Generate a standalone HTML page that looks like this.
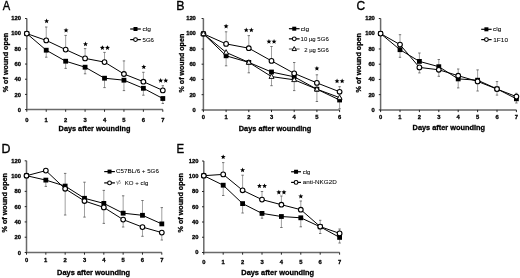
<!DOCTYPE html>
<html><head><meta charset="utf-8"><style>
html,body{margin:0;padding:0;background:#fff;}
svg{display:block;filter:blur(0.3px);font-family:"Liberation Sans", sans-serif;font-kerning:none;}
</style></head><body>
<svg width="520" height="278" viewBox="0 0 520 278">
<rect width="520" height="278" fill="#fff"/>
<path d="M26.80 18.50V109.60H162.81" stroke="#6a6a6a" stroke-width="1.5" fill="none"/>
<path d="M25.00 109.60H26.80M25.00 94.42H26.80M25.00 79.23H26.80M25.00 64.05H26.80M25.00 48.87H26.80M25.00 33.68H26.80M25.00 18.50H26.80M26.80 109.60V111.80M46.23 109.60V111.80M65.66 109.60V111.80M85.09 109.60V111.80M104.52 109.60V111.80M123.95 109.60V111.80M143.38 109.60V111.80M162.81 109.60V111.80" stroke="#111" stroke-width="0.9" fill="none"/>
<text transform="translate(17.71,111.80)" font-size="5.8" font-weight="bold" fill="#000" stroke="#000" stroke-width="0.3">0</text>
<text transform="translate(14.49,96.54)" font-size="5.8" font-weight="bold" fill="#000" stroke="#000" stroke-width="0.3">20</text>
<text transform="translate(14.49,81.27)" font-size="5.8" font-weight="bold" fill="#000" stroke="#000" stroke-width="0.3">40</text>
<text transform="translate(14.49,66.00)" font-size="5.8" font-weight="bold" fill="#000" stroke="#000" stroke-width="0.3">60</text>
<text transform="translate(14.49,50.74)" font-size="5.8" font-weight="bold" fill="#000" stroke="#000" stroke-width="0.3">80</text>
<text transform="translate(11.26,35.47)" font-size="5.8" font-weight="bold" fill="#000" stroke="#000" stroke-width="0.3">100</text>
<text transform="translate(11.26,20.20)" font-size="5.8" font-weight="bold" fill="#000" stroke="#000" stroke-width="0.3">120</text>
<text transform="translate(25.19,121.55)" font-size="5.8" font-weight="bold" fill="#000" stroke="#000" stroke-width="0.3">0</text>
<text transform="translate(44.52,121.55)" font-size="5.8" font-weight="bold" fill="#000" stroke="#000" stroke-width="0.3">1</text>
<text transform="translate(64.06,121.55)" font-size="5.8" font-weight="bold" fill="#000" stroke="#000" stroke-width="0.3">2</text>
<text transform="translate(83.52,121.55)" font-size="5.8" font-weight="bold" fill="#000" stroke="#000" stroke-width="0.3">3</text>
<text transform="translate(102.88,121.55)" font-size="5.8" font-weight="bold" fill="#000" stroke="#000" stroke-width="0.3">4</text>
<text transform="translate(122.33,121.55)" font-size="5.8" font-weight="bold" fill="#000" stroke="#000" stroke-width="0.3">5</text>
<text transform="translate(141.77,121.55)" font-size="5.8" font-weight="bold" fill="#000" stroke="#000" stroke-width="0.3">6</text>
<text transform="translate(161.20,121.55)" font-size="5.8" font-weight="bold" fill="#000" stroke="#000" stroke-width="0.3">7</text>
<text transform="translate(58.61,130.60)" font-size="7.3" font-weight="bold" fill="#000" stroke="#000" stroke-width="0.3">Days after wounding</text>
<text transform="translate(7.50,92.28) rotate(-90)" font-size="7.2" font-weight="bold" fill="#000" stroke="#000" stroke-width="0.3">% of wound open</text>
<text transform="translate(2.78,10.20) scale(0.9000,1)" font-size="12.4" font-weight="normal" fill="#000" stroke="#000" stroke-width="0.35">A</text>
<path d="M46.23 40.40V27.00" stroke="#808080" stroke-width="0.75" fill="none"/>
<path d="M45.03 27.00H47.43" stroke="#555" stroke-width="0.8" fill="none"/>
<path d="M65.66 49.60V35.40" stroke="#808080" stroke-width="0.75" fill="none"/>
<path d="M64.46 35.40H66.86" stroke="#555" stroke-width="0.8" fill="none"/>
<path d="M85.09 58.40V48.60" stroke="#808080" stroke-width="0.75" fill="none"/>
<path d="M83.89 48.60H86.29" stroke="#555" stroke-width="0.8" fill="none"/>
<path d="M104.52 62.10V52.40" stroke="#808080" stroke-width="0.75" fill="none"/>
<path d="M103.32 52.40H105.72" stroke="#555" stroke-width="0.8" fill="none"/>
<path d="M123.95 74.00V60.90" stroke="#808080" stroke-width="0.75" fill="none"/>
<path d="M122.75 60.90H125.15" stroke="#555" stroke-width="0.8" fill="none"/>
<path d="M143.38 81.70V72.30" stroke="#808080" stroke-width="0.75" fill="none"/>
<path d="M142.18 72.30H144.58" stroke="#555" stroke-width="0.8" fill="none"/>
<path d="M162.81 90.40V85.70" stroke="#808080" stroke-width="0.75" fill="none"/>
<path d="M161.61 85.70H164.01" stroke="#555" stroke-width="0.8" fill="none"/>
<path d="M46.23 50.20V57.20" stroke="#808080" stroke-width="0.75" fill="none"/>
<path d="M45.03 57.20H47.43" stroke="#555" stroke-width="0.8" fill="none"/>
<path d="M65.66 61.20V68.40" stroke="#808080" stroke-width="0.75" fill="none"/>
<path d="M64.46 68.40H66.86" stroke="#555" stroke-width="0.8" fill="none"/>
<path d="M85.09 67.20V73.80" stroke="#808080" stroke-width="0.75" fill="none"/>
<path d="M83.89 73.80H86.29" stroke="#555" stroke-width="0.8" fill="none"/>
<path d="M104.52 78.20V87.60" stroke="#808080" stroke-width="0.75" fill="none"/>
<path d="M103.32 87.60H105.72" stroke="#555" stroke-width="0.8" fill="none"/>
<path d="M123.95 80.20V90.60" stroke="#808080" stroke-width="0.75" fill="none"/>
<path d="M122.75 90.60H125.15" stroke="#555" stroke-width="0.8" fill="none"/>
<path d="M143.38 88.30V95.20" stroke="#808080" stroke-width="0.75" fill="none"/>
<path d="M142.18 95.20H144.58" stroke="#555" stroke-width="0.8" fill="none"/>
<path d="M162.81 98.50V103.50" stroke="#808080" stroke-width="0.75" fill="none"/>
<path d="M161.61 103.50H164.01" stroke="#555" stroke-width="0.8" fill="none"/>
<path d="M26.80 33.60L46.23 50.20L65.66 61.20L85.09 67.20L104.52 78.20L123.95 80.20L143.38 88.30L162.81 98.50" fill="none" stroke="#000" stroke-width="1.0" stroke-linejoin="round"/>
<path d="M26.80 33.60L46.23 40.40L65.66 49.60L85.09 58.40L104.52 62.10L123.95 74.00L143.38 81.70L162.81 90.40" fill="none" stroke="#000" stroke-width="1.0" stroke-linejoin="round"/>
<rect x="24.40" y="31.20" width="4.8" height="4.8" fill="#000"/>
<rect x="43.83" y="47.80" width="4.8" height="4.8" fill="#000"/>
<rect x="63.26" y="58.80" width="4.8" height="4.8" fill="#000"/>
<rect x="82.69" y="64.80" width="4.8" height="4.8" fill="#000"/>
<rect x="102.12" y="75.80" width="4.8" height="4.8" fill="#000"/>
<rect x="121.55" y="77.80" width="4.8" height="4.8" fill="#000"/>
<rect x="140.98" y="85.90" width="4.8" height="4.8" fill="#000"/>
<rect x="160.41" y="96.10" width="4.8" height="4.8" fill="#000"/>
<circle cx="26.80" cy="33.60" r="2.35" fill="#fff" stroke="#000" stroke-width="1.1"/>
<circle cx="46.23" cy="40.40" r="2.35" fill="#fff" stroke="#000" stroke-width="1.1"/>
<circle cx="65.66" cy="49.60" r="2.35" fill="#fff" stroke="#000" stroke-width="1.1"/>
<circle cx="85.09" cy="58.40" r="2.35" fill="#fff" stroke="#000" stroke-width="1.1"/>
<circle cx="104.52" cy="62.10" r="2.35" fill="#fff" stroke="#000" stroke-width="1.1"/>
<circle cx="123.95" cy="74.00" r="2.35" fill="#fff" stroke="#000" stroke-width="1.1"/>
<circle cx="143.38" cy="81.70" r="2.35" fill="#fff" stroke="#000" stroke-width="1.1"/>
<circle cx="162.81" cy="90.40" r="2.35" fill="#fff" stroke="#000" stroke-width="1.1"/>
<polygon points="46.63,18.60 47.31,20.27 49.10,20.40 47.72,21.56 48.16,23.30 46.63,22.35 45.10,23.30 45.54,21.56 44.16,20.40 45.95,20.27" fill="#000"/>
<polygon points="66.06,27.80 66.74,29.47 68.53,29.60 67.15,30.76 67.59,32.50 66.06,31.55 64.53,32.50 64.97,30.76 63.59,29.60 65.38,29.47" fill="#000"/>
<polygon points="85.49,41.60 86.17,43.27 87.96,43.40 86.58,44.56 87.02,46.30 85.49,45.35 83.96,46.30 84.40,44.56 83.02,43.40 84.81,43.27" fill="#000"/>
<polygon points="102.37,45.20 103.05,46.87 104.84,47.00 103.46,48.16 103.90,49.90 102.37,48.95 100.84,49.90 101.28,48.16 99.90,47.00 101.69,46.87" fill="#000"/>
<polygon points="107.47,45.20 108.15,46.87 109.94,47.00 108.56,48.16 109.00,49.90 107.47,48.95 105.94,49.90 106.38,48.16 105.00,47.00 106.79,46.87" fill="#000"/>
<polygon points="143.78,64.40 144.46,66.07 146.25,66.20 144.87,67.36 145.31,69.10 143.78,68.15 142.25,69.10 142.69,67.36 141.31,66.20 143.10,66.07" fill="#000"/>
<polygon points="160.66,78.00 161.34,79.67 163.13,79.80 161.75,80.96 162.19,82.70 160.66,81.75 159.13,82.70 159.57,80.96 158.19,79.80 159.98,79.67" fill="#000"/>
<polygon points="165.76,78.00 166.44,79.67 168.23,79.80 166.85,80.96 167.29,82.70 165.76,81.75 164.23,82.70 164.67,80.96 163.29,79.80 165.08,79.67" fill="#000"/>
<path d="M130.20 29.00L140.80 29.00" fill="none" stroke="#000" stroke-width="1.2" stroke-linejoin="round"/>
<rect x="133.50" y="27.00" width="4.0" height="4.0" fill="#000"/>
<text transform="translate(142.42,31.00) scale(1.1098,1)" font-size="6.0" font-weight="normal" fill="#000" stroke="#000" stroke-width="0.06">clg</text>
<path d="M130.20 39.60L140.80 39.60" fill="none" stroke="#000" stroke-width="1.2" stroke-linejoin="round"/>
<circle cx="135.50" cy="39.60" r="1.9" fill="#fff" stroke="#000" stroke-width="1.1"/>
<text transform="translate(142.56,41.60) scale(1.0058,1)" font-size="6.0" font-weight="normal" fill="#000" stroke="#000" stroke-width="0.06">5G6</text>
<path d="M203.40 18.50V109.90H339.60" stroke="#6a6a6a" stroke-width="1.5" fill="none"/>
<path d="M201.60 109.90H203.40M201.60 94.67H203.40M201.60 79.43H203.40M201.60 64.20H203.40M201.60 48.97H203.40M201.60 33.73H203.40M201.60 18.50H203.40M203.40 109.90V112.10M226.10 109.90V112.10M248.80 109.90V112.10M271.50 109.90V112.10M294.20 109.90V112.10M316.90 109.90V112.10M339.60 109.90V112.10" stroke="#111" stroke-width="0.9" fill="none"/>
<text transform="translate(192.61,111.80)" font-size="5.8" font-weight="bold" fill="#000" stroke="#000" stroke-width="0.3">0</text>
<text transform="translate(189.39,96.52)" font-size="5.8" font-weight="bold" fill="#000" stroke="#000" stroke-width="0.3">20</text>
<text transform="translate(189.39,81.24)" font-size="5.8" font-weight="bold" fill="#000" stroke="#000" stroke-width="0.3">40</text>
<text transform="translate(189.39,65.95)" font-size="5.8" font-weight="bold" fill="#000" stroke="#000" stroke-width="0.3">60</text>
<text transform="translate(189.39,50.67)" font-size="5.8" font-weight="bold" fill="#000" stroke="#000" stroke-width="0.3">80</text>
<text transform="translate(186.16,35.39)" font-size="5.8" font-weight="bold" fill="#000" stroke="#000" stroke-width="0.3">100</text>
<text transform="translate(186.16,20.10)" font-size="5.8" font-weight="bold" fill="#000" stroke="#000" stroke-width="0.3">120</text>
<text transform="translate(201.79,119.25)" font-size="5.8" font-weight="bold" fill="#000" stroke="#000" stroke-width="0.3">0</text>
<text transform="translate(224.39,119.25)" font-size="5.8" font-weight="bold" fill="#000" stroke="#000" stroke-width="0.3">1</text>
<text transform="translate(247.20,119.25)" font-size="5.8" font-weight="bold" fill="#000" stroke="#000" stroke-width="0.3">2</text>
<text transform="translate(269.93,119.25)" font-size="5.8" font-weight="bold" fill="#000" stroke="#000" stroke-width="0.3">3</text>
<text transform="translate(292.56,119.25)" font-size="5.8" font-weight="bold" fill="#000" stroke="#000" stroke-width="0.3">4</text>
<text transform="translate(315.28,119.25)" font-size="5.8" font-weight="bold" fill="#000" stroke="#000" stroke-width="0.3">5</text>
<text transform="translate(337.99,119.25)" font-size="5.8" font-weight="bold" fill="#000" stroke="#000" stroke-width="0.3">6</text>
<text transform="translate(238.81,130.60) scale(1.0083,1)" font-size="7.3" font-weight="bold" fill="#000" stroke="#000" stroke-width="0.3">Days after wounding</text>
<text transform="translate(184.30,92.48) rotate(-90) scale(0.9870,1)" font-size="7.2" font-weight="bold" fill="#000" stroke="#000" stroke-width="0.3">% of wound open</text>
<text transform="translate(176.33,10.00)" font-size="12.4" font-weight="normal" fill="#000" stroke="#000" stroke-width="0.35">B</text>
<path d="M226.10 43.90V31.80" stroke="#808080" stroke-width="0.75" fill="none"/>
<path d="M224.90 31.80H227.30" stroke="#555" stroke-width="0.8" fill="none"/>
<path d="M248.80 48.20V35.60" stroke="#808080" stroke-width="0.75" fill="none"/>
<path d="M247.60 35.60H250.00" stroke="#555" stroke-width="0.8" fill="none"/>
<path d="M271.50 60.90V46.50" stroke="#808080" stroke-width="0.75" fill="none"/>
<path d="M270.30 46.50H272.70" stroke="#555" stroke-width="0.8" fill="none"/>
<path d="M294.20 73.40V62.50" stroke="#808080" stroke-width="0.75" fill="none"/>
<path d="M293.00 62.50H295.40" stroke="#555" stroke-width="0.8" fill="none"/>
<path d="M316.90 82.90V74.80" stroke="#808080" stroke-width="0.75" fill="none"/>
<path d="M315.70 74.80H318.10" stroke="#555" stroke-width="0.8" fill="none"/>
<path d="M339.60 91.80V86.70" stroke="#808080" stroke-width="0.75" fill="none"/>
<path d="M338.40 86.70H340.80" stroke="#555" stroke-width="0.8" fill="none"/>
<path d="M226.10 55.80V65.80" stroke="#808080" stroke-width="0.75" fill="none"/>
<path d="M224.90 65.80H227.30" stroke="#555" stroke-width="0.8" fill="none"/>
<path d="M248.80 62.40V72.80" stroke="#808080" stroke-width="0.75" fill="none"/>
<path d="M247.60 72.80H250.00" stroke="#555" stroke-width="0.8" fill="none"/>
<path d="M271.50 72.00V85.70" stroke="#808080" stroke-width="0.75" fill="none"/>
<path d="M270.30 85.70H272.70" stroke="#555" stroke-width="0.8" fill="none"/>
<path d="M294.20 76.80V90.60" stroke="#808080" stroke-width="0.75" fill="none"/>
<path d="M293.00 90.60H295.40" stroke="#555" stroke-width="0.8" fill="none"/>
<path d="M316.90 89.20V101.50" stroke="#808080" stroke-width="0.75" fill="none"/>
<path d="M315.70 101.50H318.10" stroke="#555" stroke-width="0.8" fill="none"/>
<path d="M339.60 100.00V108.80" stroke="#808080" stroke-width="0.75" fill="none"/>
<path d="M338.40 108.80H340.80" stroke="#555" stroke-width="0.8" fill="none"/>
<path d="M203.40 33.80L226.10 55.80L248.80 62.40L271.50 72.00L294.20 76.80L316.90 89.20L339.60 100.00" fill="none" stroke="#000" stroke-width="1.0" stroke-linejoin="round"/>
<path d="M203.40 33.80L226.10 43.90L248.80 48.20L271.50 60.90L294.20 73.40L316.90 82.90L339.60 91.80" fill="none" stroke="#000" stroke-width="1.0" stroke-linejoin="round"/>
<path d="M203.40 33.80L226.10 52.40L248.80 62.40L271.50 76.60L294.20 79.80L316.90 89.20L339.60 97.60" fill="none" stroke="#000" stroke-width="1.0" stroke-linejoin="round"/>
<rect x="201.00" y="31.40" width="4.8" height="4.8" fill="#000"/>
<rect x="223.70" y="53.40" width="4.8" height="4.8" fill="#000"/>
<rect x="246.40" y="60.00" width="4.8" height="4.8" fill="#000"/>
<rect x="269.10" y="69.60" width="4.8" height="4.8" fill="#000"/>
<rect x="291.80" y="74.40" width="4.8" height="4.8" fill="#000"/>
<rect x="314.50" y="86.80" width="4.8" height="4.8" fill="#000"/>
<rect x="337.20" y="97.60" width="4.8" height="4.8" fill="#000"/>
<circle cx="203.40" cy="33.80" r="2.35" fill="#fff" stroke="#000" stroke-width="1.1"/>
<circle cx="226.10" cy="43.90" r="2.35" fill="#fff" stroke="#000" stroke-width="1.1"/>
<circle cx="248.80" cy="48.20" r="2.35" fill="#fff" stroke="#000" stroke-width="1.1"/>
<circle cx="271.50" cy="60.90" r="2.35" fill="#fff" stroke="#000" stroke-width="1.1"/>
<circle cx="294.20" cy="73.40" r="2.35" fill="#fff" stroke="#000" stroke-width="1.1"/>
<circle cx="316.90" cy="82.90" r="2.35" fill="#fff" stroke="#000" stroke-width="1.1"/>
<circle cx="339.60" cy="91.80" r="2.35" fill="#fff" stroke="#000" stroke-width="1.1"/>
<path d="M203.40 31.10L205.90 35.60L200.90 35.60Z" fill="#fff" stroke="#000" stroke-width="0.9"/>
<path d="M226.10 49.70L228.60 54.20L223.60 54.20Z" fill="#fff" stroke="#000" stroke-width="0.9"/>
<path d="M248.80 59.70L251.30 64.20L246.30 64.20Z" fill="#fff" stroke="#000" stroke-width="0.9"/>
<path d="M271.50 73.90L274.00 78.40L269.00 78.40Z" fill="#fff" stroke="#000" stroke-width="0.9"/>
<path d="M294.20 77.10L296.70 81.60L291.70 81.60Z" fill="#fff" stroke="#000" stroke-width="0.9"/>
<path d="M316.90 86.50L319.40 91.00L314.40 91.00Z" fill="#fff" stroke="#000" stroke-width="0.9"/>
<path d="M339.60 94.90L342.10 99.40L337.10 99.40Z" fill="#fff" stroke="#000" stroke-width="0.9"/>
<polygon points="226.10,23.70 226.78,25.37 228.57,25.50 227.19,26.66 227.63,28.40 226.10,27.45 224.57,28.40 225.01,26.66 223.63,25.50 225.42,25.37" fill="#000"/>
<polygon points="246.25,27.60 246.93,29.27 248.72,29.40 247.34,30.56 247.78,32.30 246.25,31.35 244.72,32.30 245.16,30.56 243.78,29.40 245.57,29.27" fill="#000"/>
<polygon points="251.35,27.60 252.03,29.27 253.82,29.40 252.44,30.56 252.88,32.30 251.35,31.35 249.82,32.30 250.26,30.56 248.88,29.40 250.67,29.27" fill="#000"/>
<polygon points="268.95,39.00 269.63,40.67 271.42,40.80 270.04,41.96 270.48,43.70 268.95,42.75 267.42,43.70 267.86,41.96 266.48,40.80 268.27,40.67" fill="#000"/>
<polygon points="274.05,39.00 274.73,40.67 276.52,40.80 275.14,41.96 275.58,43.70 274.05,42.75 272.52,43.70 272.96,41.96 271.58,40.80 273.37,40.67" fill="#000"/>
<polygon points="316.90,65.90 317.58,67.57 319.37,67.70 317.99,68.86 318.43,70.60 316.90,69.65 315.37,70.60 315.81,68.86 314.43,67.70 316.22,67.57" fill="#000"/>
<polygon points="337.05,78.60 337.73,80.27 339.52,80.40 338.14,81.56 338.58,83.30 337.05,82.35 335.52,83.30 335.96,81.56 334.58,80.40 336.37,80.27" fill="#000"/>
<polygon points="342.15,78.60 342.83,80.27 344.62,80.40 343.24,81.56 343.68,83.30 342.15,82.35 340.62,83.30 341.06,81.56 339.68,80.40 341.47,80.27" fill="#000"/>
<path d="M288.90 28.70L299.60 28.70" fill="none" stroke="#000" stroke-width="1.2" stroke-linejoin="round"/>
<rect x="292.25" y="26.70" width="4.0" height="4.0" fill="#000"/>
<text transform="translate(300.72,30.90) scale(1.0956,1)" font-size="6.0" font-weight="normal" fill="#000" stroke="#000" stroke-width="0.06">clg</text>
<path d="M288.90 38.85L299.60 38.85" fill="none" stroke="#000" stroke-width="1.2" stroke-linejoin="round"/>
<circle cx="294.25" cy="38.85" r="1.9" fill="#fff" stroke="#000" stroke-width="1.1"/>
<text transform="translate(300.54,41.30) scale(1.0028,1)" font-size="6.0" font-weight="normal" fill="#000" stroke="#000" stroke-width="0.06">10 µg 5G6</text>
<path d="M288.90 49.00L299.60 49.00" fill="none" stroke="#555" stroke-width="1.0" stroke-linejoin="round"/>
<path d="M294.25 46.62L296.45 50.58L292.05 50.58Z" fill="#fff" stroke="#000" stroke-width="1.0"/>
<text transform="translate(304.20,51.60) scale(0.9901,1)" font-size="6.0" font-weight="normal" fill="#000" stroke="#000" stroke-width="0.06">2 µg 5G6</text>
<path d="M380.60 18.50V109.90H516.40" stroke="#6a6a6a" stroke-width="1.5" fill="none"/>
<path d="M378.80 109.90H380.60M378.80 94.67H380.60M378.80 79.43H380.60M378.80 64.20H380.60M378.80 48.97H380.60M378.80 33.73H380.60M378.80 18.50H380.60M380.60 109.90V112.10M400.00 109.90V112.10M419.40 109.90V112.10M438.80 109.90V112.10M458.20 109.90V112.10M477.60 109.90V112.10M497.00 109.90V112.10M516.40 109.90V112.10" stroke="#111" stroke-width="0.9" fill="none"/>
<text transform="translate(371.61,112.05)" font-size="5.8" font-weight="bold" fill="#000" stroke="#000" stroke-width="0.3">0</text>
<text transform="translate(368.39,96.73)" font-size="5.8" font-weight="bold" fill="#000" stroke="#000" stroke-width="0.3">20</text>
<text transform="translate(368.39,81.40)" font-size="5.8" font-weight="bold" fill="#000" stroke="#000" stroke-width="0.3">40</text>
<text transform="translate(368.39,66.08)" font-size="5.8" font-weight="bold" fill="#000" stroke="#000" stroke-width="0.3">60</text>
<text transform="translate(368.39,50.75)" font-size="5.8" font-weight="bold" fill="#000" stroke="#000" stroke-width="0.3">80</text>
<text transform="translate(365.16,35.43)" font-size="5.8" font-weight="bold" fill="#000" stroke="#000" stroke-width="0.3">100</text>
<text transform="translate(365.16,20.10)" font-size="5.8" font-weight="bold" fill="#000" stroke="#000" stroke-width="0.3">120</text>
<text transform="translate(378.99,119.05)" font-size="5.8" font-weight="bold" fill="#000" stroke="#000" stroke-width="0.3">0</text>
<text transform="translate(398.29,119.05)" font-size="5.8" font-weight="bold" fill="#000" stroke="#000" stroke-width="0.3">1</text>
<text transform="translate(417.80,119.05)" font-size="5.8" font-weight="bold" fill="#000" stroke="#000" stroke-width="0.3">2</text>
<text transform="translate(437.23,119.05)" font-size="5.8" font-weight="bold" fill="#000" stroke="#000" stroke-width="0.3">3</text>
<text transform="translate(456.56,119.05)" font-size="5.8" font-weight="bold" fill="#000" stroke="#000" stroke-width="0.3">4</text>
<text transform="translate(475.98,119.05)" font-size="5.8" font-weight="bold" fill="#000" stroke="#000" stroke-width="0.3">5</text>
<text transform="translate(495.39,119.05)" font-size="5.8" font-weight="bold" fill="#000" stroke="#000" stroke-width="0.3">6</text>
<text transform="translate(514.79,119.05)" font-size="5.8" font-weight="bold" fill="#000" stroke="#000" stroke-width="0.3">7</text>
<text transform="translate(412.61,130.40) scale(1.0097,1)" font-size="7.3" font-weight="bold" fill="#000" stroke="#000" stroke-width="0.3">Days after wounding</text>
<text transform="translate(361.30,92.48) rotate(-90) scale(0.9989,1)" font-size="7.2" font-weight="bold" fill="#000" stroke="#000" stroke-width="0.3">% of wound open</text>
<text transform="translate(356.39,9.90) scale(0.9678,1)" font-size="12.4" font-weight="normal" fill="#000" stroke="#000" stroke-width="0.35">C</text>
<path d="M400.00 45.10V34.70" stroke="#808080" stroke-width="0.75" fill="none"/>
<path d="M398.80 34.70H401.20" stroke="#555" stroke-width="0.8" fill="none"/>
<path d="M400.00 49.40V57.30" stroke="#808080" stroke-width="0.75" fill="none"/>
<path d="M398.80 57.30H401.20" stroke="#555" stroke-width="0.8" fill="none"/>
<path d="M419.40 60.60V53.00" stroke="#808080" stroke-width="0.75" fill="none"/>
<path d="M418.20 53.00H420.60" stroke="#555" stroke-width="0.8" fill="none"/>
<path d="M419.40 67.50V72.90" stroke="#808080" stroke-width="0.75" fill="none"/>
<path d="M418.20 72.90H420.60" stroke="#555" stroke-width="0.8" fill="none"/>
<path d="M438.80 66.00V59.50" stroke="#808080" stroke-width="0.75" fill="none"/>
<path d="M437.60 59.50H440.00" stroke="#555" stroke-width="0.8" fill="none"/>
<path d="M438.80 69.60V76.30" stroke="#808080" stroke-width="0.75" fill="none"/>
<path d="M437.60 76.30H440.00" stroke="#555" stroke-width="0.8" fill="none"/>
<path d="M458.20 75.80V69.00" stroke="#808080" stroke-width="0.75" fill="none"/>
<path d="M457.00 69.00H459.40" stroke="#555" stroke-width="0.8" fill="none"/>
<path d="M458.20 78.90V87.90" stroke="#808080" stroke-width="0.75" fill="none"/>
<path d="M457.00 87.90H459.40" stroke="#555" stroke-width="0.8" fill="none"/>
<path d="M477.60 79.40V69.90" stroke="#808080" stroke-width="0.75" fill="none"/>
<path d="M476.40 69.90H478.80" stroke="#555" stroke-width="0.8" fill="none"/>
<path d="M477.60 81.60V91.00" stroke="#808080" stroke-width="0.75" fill="none"/>
<path d="M476.40 91.00H478.80" stroke="#555" stroke-width="0.8" fill="none"/>
<path d="M497.00 88.80V81.60" stroke="#808080" stroke-width="0.75" fill="none"/>
<path d="M495.80 81.60H498.20" stroke="#555" stroke-width="0.8" fill="none"/>
<path d="M497.00 88.90V95.10" stroke="#808080" stroke-width="0.75" fill="none"/>
<path d="M495.80 95.10H498.20" stroke="#555" stroke-width="0.8" fill="none"/>
<path d="M516.40 96.50V93.30" stroke="#808080" stroke-width="0.75" fill="none"/>
<path d="M515.20 93.30H517.60" stroke="#555" stroke-width="0.8" fill="none"/>
<path d="M516.40 98.10V103.00" stroke="#808080" stroke-width="0.75" fill="none"/>
<path d="M515.20 103.00H517.60" stroke="#555" stroke-width="0.8" fill="none"/>
<path d="M380.60 33.60L400.00 49.70L419.40 61.40L438.80 66.70L458.20 78.90L477.60 80.20L497.00 88.90L516.40 98.80" fill="none" stroke="#000" stroke-width="1.0" stroke-linejoin="round"/>
<path d="M380.60 33.60L400.00 44.60L419.40 67.40L438.80 69.80L458.20 75.70L477.60 81.40L497.00 89.10L516.40 96.60" fill="none" stroke="#000" stroke-width="1.0" stroke-linejoin="round"/>
<rect x="378.20" y="31.20" width="4.8" height="4.8" fill="#000"/>
<rect x="397.60" y="47.30" width="4.8" height="4.8" fill="#000"/>
<rect x="417.00" y="59.00" width="4.8" height="4.8" fill="#000"/>
<rect x="436.40" y="64.30" width="4.8" height="4.8" fill="#000"/>
<rect x="455.80" y="76.50" width="4.8" height="4.8" fill="#000"/>
<rect x="475.20" y="77.80" width="4.8" height="4.8" fill="#000"/>
<rect x="494.60" y="86.50" width="4.8" height="4.8" fill="#000"/>
<rect x="514.00" y="96.40" width="4.8" height="4.8" fill="#000"/>
<circle cx="380.60" cy="33.60" r="2.35" fill="#fff" stroke="#000" stroke-width="1.1"/>
<circle cx="400.00" cy="44.60" r="2.35" fill="#fff" stroke="#000" stroke-width="1.1"/>
<circle cx="419.40" cy="67.40" r="2.35" fill="#fff" stroke="#000" stroke-width="1.1"/>
<circle cx="438.80" cy="69.80" r="2.35" fill="#fff" stroke="#000" stroke-width="1.1"/>
<circle cx="458.20" cy="75.70" r="2.35" fill="#fff" stroke="#000" stroke-width="1.1"/>
<circle cx="477.60" cy="81.40" r="2.35" fill="#fff" stroke="#000" stroke-width="1.1"/>
<circle cx="497.00" cy="89.10" r="2.35" fill="#fff" stroke="#000" stroke-width="1.1"/>
<circle cx="516.40" cy="96.60" r="2.35" fill="#fff" stroke="#000" stroke-width="1.1"/>
<path d="M481.20 29.30L491.60 29.30" fill="none" stroke="#000" stroke-width="1.2" stroke-linejoin="round"/>
<rect x="484.40" y="27.30" width="4.0" height="4.0" fill="#000"/>
<text transform="translate(493.12,31.20) scale(1.0813,1)" font-size="6.0" font-weight="normal" fill="#000" stroke="#000" stroke-width="0.06">clg</text>
<path d="M481.20 39.60L491.60 39.60" fill="none" stroke="#000" stroke-width="1.2" stroke-linejoin="round"/>
<circle cx="486.40" cy="39.60" r="1.9" fill="#fff" stroke="#000" stroke-width="1.1"/>
<text transform="translate(493.20,41.60) scale(1.0859,1)" font-size="6.0" font-weight="normal" fill="#000" stroke="#000" stroke-width="0.06">1F10</text>
<path d="M26.50 160.80V252.50H161.81" stroke="#6a6a6a" stroke-width="1.5" fill="none"/>
<path d="M24.70 252.50H26.50M24.70 237.22H26.50M24.70 221.93H26.50M24.70 206.65H26.50M24.70 191.37H26.50M24.70 176.08H26.50M24.70 160.80H26.50M26.50 252.50V254.70M45.83 252.50V254.70M65.16 252.50V254.70M84.49 252.50V254.70M103.82 252.50V254.70M123.15 252.50V254.70M142.48 252.50V254.70M161.81 252.50V254.70" stroke="#111" stroke-width="0.9" fill="none"/>
<text transform="translate(17.71,254.55)" font-size="5.8" font-weight="bold" fill="#000" stroke="#000" stroke-width="0.3">0</text>
<text transform="translate(14.49,239.22)" font-size="5.8" font-weight="bold" fill="#000" stroke="#000" stroke-width="0.3">20</text>
<text transform="translate(14.49,223.89)" font-size="5.8" font-weight="bold" fill="#000" stroke="#000" stroke-width="0.3">40</text>
<text transform="translate(14.49,208.55)" font-size="5.8" font-weight="bold" fill="#000" stroke="#000" stroke-width="0.3">60</text>
<text transform="translate(14.49,193.22)" font-size="5.8" font-weight="bold" fill="#000" stroke="#000" stroke-width="0.3">80</text>
<text transform="translate(11.26,177.89)" font-size="5.8" font-weight="bold" fill="#000" stroke="#000" stroke-width="0.3">100</text>
<text transform="translate(11.26,162.55)" font-size="5.8" font-weight="bold" fill="#000" stroke="#000" stroke-width="0.3">120</text>
<text transform="translate(24.89,262.25)" font-size="5.8" font-weight="bold" fill="#000" stroke="#000" stroke-width="0.3">0</text>
<text transform="translate(44.12,262.25)" font-size="5.8" font-weight="bold" fill="#000" stroke="#000" stroke-width="0.3">1</text>
<text transform="translate(63.56,262.25)" font-size="5.8" font-weight="bold" fill="#000" stroke="#000" stroke-width="0.3">2</text>
<text transform="translate(82.92,262.25)" font-size="5.8" font-weight="bold" fill="#000" stroke="#000" stroke-width="0.3">3</text>
<text transform="translate(102.18,262.25)" font-size="5.8" font-weight="bold" fill="#000" stroke="#000" stroke-width="0.3">4</text>
<text transform="translate(121.53,262.25)" font-size="5.8" font-weight="bold" fill="#000" stroke="#000" stroke-width="0.3">5</text>
<text transform="translate(140.87,262.25)" font-size="5.8" font-weight="bold" fill="#000" stroke="#000" stroke-width="0.3">6</text>
<text transform="translate(160.20,262.25)" font-size="5.8" font-weight="bold" fill="#000" stroke="#000" stroke-width="0.3">7</text>
<text transform="translate(57.10,275.30) scale(1.0167,1)" font-size="7.3" font-weight="bold" fill="#000" stroke="#000" stroke-width="0.3">Days after wounding</text>
<text transform="translate(7.00,232.48) rotate(-90) scale(0.9989,1)" font-size="7.2" font-weight="bold" fill="#000" stroke="#000" stroke-width="0.3">% of wound open</text>
<text transform="translate(1.38,153.40)" font-size="12.4" font-weight="normal" fill="#000" stroke="#000" stroke-width="0.35">D</text>
<path d="M45.83 180.10V186.40" stroke="#808080" stroke-width="0.75" fill="none"/>
<path d="M44.63 186.40H47.03" stroke="#555" stroke-width="0.8" fill="none"/>
<path d="M65.16 186.10V173.40" stroke="#808080" stroke-width="0.75" fill="none"/>
<path d="M63.96 173.40H66.36" stroke="#555" stroke-width="0.8" fill="none"/>
<path d="M65.16 188.80V215.00" stroke="#808080" stroke-width="0.75" fill="none"/>
<path d="M63.96 215.00H66.36" stroke="#555" stroke-width="0.8" fill="none"/>
<path d="M84.49 198.60V182.20" stroke="#808080" stroke-width="0.75" fill="none"/>
<path d="M83.29 182.20H85.69" stroke="#555" stroke-width="0.8" fill="none"/>
<path d="M84.49 201.00V217.10" stroke="#808080" stroke-width="0.75" fill="none"/>
<path d="M83.29 217.10H85.69" stroke="#555" stroke-width="0.8" fill="none"/>
<path d="M103.82 203.40V190.40" stroke="#808080" stroke-width="0.75" fill="none"/>
<path d="M102.62 190.40H105.02" stroke="#555" stroke-width="0.8" fill="none"/>
<path d="M103.82 207.40V223.40" stroke="#808080" stroke-width="0.75" fill="none"/>
<path d="M102.62 223.40H105.02" stroke="#555" stroke-width="0.8" fill="none"/>
<path d="M123.15 213.20V195.80" stroke="#808080" stroke-width="0.75" fill="none"/>
<path d="M121.95 195.80H124.35" stroke="#555" stroke-width="0.8" fill="none"/>
<path d="M123.15 219.60V227.00" stroke="#808080" stroke-width="0.75" fill="none"/>
<path d="M121.95 227.00H124.35" stroke="#555" stroke-width="0.8" fill="none"/>
<path d="M142.48 215.30V200.50" stroke="#808080" stroke-width="0.75" fill="none"/>
<path d="M141.28 200.50H143.68" stroke="#555" stroke-width="0.8" fill="none"/>
<path d="M142.48 227.10V236.30" stroke="#808080" stroke-width="0.75" fill="none"/>
<path d="M141.28 236.30H143.68" stroke="#555" stroke-width="0.8" fill="none"/>
<path d="M161.81 223.90V207.60" stroke="#808080" stroke-width="0.75" fill="none"/>
<path d="M160.61 207.60H163.01" stroke="#555" stroke-width="0.8" fill="none"/>
<path d="M161.81 232.60V240.00" stroke="#808080" stroke-width="0.75" fill="none"/>
<path d="M160.61 240.00H163.01" stroke="#555" stroke-width="0.8" fill="none"/>
<path d="M26.50 175.70L45.83 180.10L65.16 186.10L84.49 198.30L103.82 203.40L123.15 213.20L142.48 215.30L161.81 223.90" fill="none" stroke="#000" stroke-width="1.0" stroke-linejoin="round"/>
<path d="M26.50 175.70L45.83 170.60L65.16 188.80L84.49 201.00L103.82 207.40L123.15 219.60L142.48 227.10L161.81 232.60" fill="none" stroke="#000" stroke-width="1.0" stroke-linejoin="round"/>
<rect x="24.10" y="173.30" width="4.8" height="4.8" fill="#000"/>
<rect x="43.43" y="177.70" width="4.8" height="4.8" fill="#000"/>
<rect x="62.76" y="183.70" width="4.8" height="4.8" fill="#000"/>
<rect x="82.09" y="195.90" width="4.8" height="4.8" fill="#000"/>
<rect x="101.42" y="201.00" width="4.8" height="4.8" fill="#000"/>
<rect x="120.75" y="210.80" width="4.8" height="4.8" fill="#000"/>
<rect x="140.08" y="212.90" width="4.8" height="4.8" fill="#000"/>
<rect x="159.41" y="221.50" width="4.8" height="4.8" fill="#000"/>
<circle cx="26.50" cy="175.70" r="2.35" fill="#fff" stroke="#000" stroke-width="1.1"/>
<circle cx="45.83" cy="170.60" r="2.35" fill="#fff" stroke="#000" stroke-width="1.1"/>
<circle cx="65.16" cy="188.80" r="2.35" fill="#fff" stroke="#000" stroke-width="1.1"/>
<circle cx="84.49" cy="201.00" r="2.35" fill="#fff" stroke="#000" stroke-width="1.1"/>
<circle cx="103.82" cy="207.40" r="2.35" fill="#fff" stroke="#000" stroke-width="1.1"/>
<circle cx="123.15" cy="219.60" r="2.35" fill="#fff" stroke="#000" stroke-width="1.1"/>
<circle cx="142.48" cy="227.10" r="2.35" fill="#fff" stroke="#000" stroke-width="1.1"/>
<circle cx="161.81" cy="232.60" r="2.35" fill="#fff" stroke="#000" stroke-width="1.1"/>
<path d="M104.20 171.60L114.90 171.60" fill="none" stroke="#000" stroke-width="1.2" stroke-linejoin="round"/>
<rect x="107.55" y="169.60" width="4.0" height="4.0" fill="#000"/>
<text transform="translate(116.09,173.40) scale(1.0327,1)" font-size="6.0" font-weight="normal" fill="#000" stroke="#000" stroke-width="0.06">C57BL/6 + 5G6</text>
<path d="M104.20 182.90L114.90 182.90" fill="none" stroke="#000" stroke-width="1.2" stroke-linejoin="round"/>
<circle cx="109.55" cy="182.90" r="1.9" fill="#fff" stroke="#000" stroke-width="1.1"/>
<text transform="translate(124.80,184.50) scale(1.0180,1)" font-size="6.0" font-weight="normal" fill="#000" stroke="#000" stroke-width="0.06">KO + clg</text>
<path d="M203.80 161.00V252.50H339.60" stroke="#6a6a6a" stroke-width="1.5" fill="none"/>
<path d="M202.00 252.50H203.80M202.00 237.25H203.80M202.00 222.00H203.80M202.00 206.75H203.80M202.00 191.50H203.80M202.00 176.25H203.80M202.00 161.00H203.80M203.80 252.50V254.70M223.20 252.50V254.70M242.60 252.50V254.70M262.00 252.50V254.70M281.40 252.50V254.70M300.80 252.50V254.70M320.20 252.50V254.70M339.60 252.50V254.70" stroke="#111" stroke-width="0.9" fill="none"/>
<text transform="translate(195.21,254.35)" font-size="5.8" font-weight="bold" fill="#000" stroke="#000" stroke-width="0.3">0</text>
<text transform="translate(191.99,239.07)" font-size="5.8" font-weight="bold" fill="#000" stroke="#000" stroke-width="0.3">20</text>
<text transform="translate(191.99,223.79)" font-size="5.8" font-weight="bold" fill="#000" stroke="#000" stroke-width="0.3">40</text>
<text transform="translate(191.99,208.50)" font-size="5.8" font-weight="bold" fill="#000" stroke="#000" stroke-width="0.3">60</text>
<text transform="translate(191.99,193.22)" font-size="5.8" font-weight="bold" fill="#000" stroke="#000" stroke-width="0.3">80</text>
<text transform="translate(188.76,177.94)" font-size="5.8" font-weight="bold" fill="#000" stroke="#000" stroke-width="0.3">100</text>
<text transform="translate(188.76,162.65)" font-size="5.8" font-weight="bold" fill="#000" stroke="#000" stroke-width="0.3">120</text>
<text transform="translate(202.19,263.55)" font-size="5.8" font-weight="bold" fill="#000" stroke="#000" stroke-width="0.3">0</text>
<text transform="translate(221.49,263.55)" font-size="5.8" font-weight="bold" fill="#000" stroke="#000" stroke-width="0.3">1</text>
<text transform="translate(241.00,263.55)" font-size="5.8" font-weight="bold" fill="#000" stroke="#000" stroke-width="0.3">2</text>
<text transform="translate(260.43,263.55)" font-size="5.8" font-weight="bold" fill="#000" stroke="#000" stroke-width="0.3">3</text>
<text transform="translate(279.76,263.55)" font-size="5.8" font-weight="bold" fill="#000" stroke="#000" stroke-width="0.3">4</text>
<text transform="translate(299.18,263.55)" font-size="5.8" font-weight="bold" fill="#000" stroke="#000" stroke-width="0.3">5</text>
<text transform="translate(318.59,263.55)" font-size="5.8" font-weight="bold" fill="#000" stroke="#000" stroke-width="0.3">6</text>
<text transform="translate(337.99,263.55)" font-size="5.8" font-weight="bold" fill="#000" stroke="#000" stroke-width="0.3">7</text>
<text transform="translate(241.30,275.30) scale(1.0153,1)" font-size="7.3" font-weight="bold" fill="#000" stroke="#000" stroke-width="0.3">Days after wounding</text>
<text transform="translate(183.00,232.48) rotate(-90) scale(0.9989,1)" font-size="7.2" font-weight="bold" fill="#000" stroke="#000" stroke-width="0.3">% of wound open</text>
<text transform="translate(176.46,153.30) scale(0.9225,1)" font-size="12.4" font-weight="normal" fill="#000" stroke="#000" stroke-width="0.35">E</text>
<path d="M223.20 174.40V162.60" stroke="#808080" stroke-width="0.75" fill="none"/>
<path d="M222.00 162.60H224.40" stroke="#555" stroke-width="0.8" fill="none"/>
<path d="M242.60 190.30V175.20" stroke="#808080" stroke-width="0.75" fill="none"/>
<path d="M241.40 175.20H243.80" stroke="#555" stroke-width="0.8" fill="none"/>
<path d="M262.00 199.60V191.50" stroke="#808080" stroke-width="0.75" fill="none"/>
<path d="M260.80 191.50H263.20" stroke="#555" stroke-width="0.8" fill="none"/>
<path d="M281.40 204.70V196.00" stroke="#808080" stroke-width="0.75" fill="none"/>
<path d="M280.20 196.00H282.60" stroke="#555" stroke-width="0.8" fill="none"/>
<path d="M300.80 209.70V201.00" stroke="#808080" stroke-width="0.75" fill="none"/>
<path d="M299.60 201.00H302.00" stroke="#555" stroke-width="0.8" fill="none"/>
<path d="M320.20 226.60V220.30" stroke="#808080" stroke-width="0.75" fill="none"/>
<path d="M319.00 220.30H321.40" stroke="#555" stroke-width="0.8" fill="none"/>
<path d="M339.60 233.40V229.00" stroke="#808080" stroke-width="0.75" fill="none"/>
<path d="M338.40 229.00H340.80" stroke="#555" stroke-width="0.8" fill="none"/>
<path d="M223.20 185.20V195.50" stroke="#808080" stroke-width="0.75" fill="none"/>
<path d="M222.00 195.50H224.40" stroke="#555" stroke-width="0.8" fill="none"/>
<path d="M242.60 203.60V213.00" stroke="#808080" stroke-width="0.75" fill="none"/>
<path d="M241.40 213.00H243.80" stroke="#555" stroke-width="0.8" fill="none"/>
<path d="M262.00 213.40V218.20" stroke="#808080" stroke-width="0.75" fill="none"/>
<path d="M260.80 218.20H263.20" stroke="#555" stroke-width="0.8" fill="none"/>
<path d="M281.40 216.50V227.50" stroke="#808080" stroke-width="0.75" fill="none"/>
<path d="M280.20 227.50H282.60" stroke="#555" stroke-width="0.8" fill="none"/>
<path d="M300.80 217.80V226.80" stroke="#808080" stroke-width="0.75" fill="none"/>
<path d="M299.60 226.80H302.00" stroke="#555" stroke-width="0.8" fill="none"/>
<path d="M320.20 226.80V233.50" stroke="#808080" stroke-width="0.75" fill="none"/>
<path d="M319.00 233.50H321.40" stroke="#555" stroke-width="0.8" fill="none"/>
<path d="M339.60 237.40V243.00" stroke="#808080" stroke-width="0.75" fill="none"/>
<path d="M338.40 243.00H340.80" stroke="#555" stroke-width="0.8" fill="none"/>
<path d="M203.80 175.70L223.20 185.20L242.60 203.60L262.00 213.40L281.40 216.50L300.80 217.80L320.20 226.80L339.60 237.40" fill="none" stroke="#000" stroke-width="1.0" stroke-linejoin="round"/>
<path d="M203.80 175.70L223.20 174.40L242.60 190.30L262.00 199.60L281.40 204.70L300.80 209.70L320.20 226.60L339.60 233.40" fill="none" stroke="#000" stroke-width="1.0" stroke-linejoin="round"/>
<rect x="201.40" y="173.30" width="4.8" height="4.8" fill="#000"/>
<rect x="220.80" y="182.80" width="4.8" height="4.8" fill="#000"/>
<rect x="240.20" y="201.20" width="4.8" height="4.8" fill="#000"/>
<rect x="259.60" y="211.00" width="4.8" height="4.8" fill="#000"/>
<rect x="279.00" y="214.10" width="4.8" height="4.8" fill="#000"/>
<rect x="298.40" y="215.40" width="4.8" height="4.8" fill="#000"/>
<rect x="317.80" y="224.40" width="4.8" height="4.8" fill="#000"/>
<rect x="337.20" y="235.00" width="4.8" height="4.8" fill="#000"/>
<circle cx="203.80" cy="175.70" r="2.35" fill="#fff" stroke="#000" stroke-width="1.1"/>
<circle cx="223.20" cy="174.40" r="2.35" fill="#fff" stroke="#000" stroke-width="1.1"/>
<circle cx="242.60" cy="190.30" r="2.35" fill="#fff" stroke="#000" stroke-width="1.1"/>
<circle cx="262.00" cy="199.60" r="2.35" fill="#fff" stroke="#000" stroke-width="1.1"/>
<circle cx="281.40" cy="204.70" r="2.35" fill="#fff" stroke="#000" stroke-width="1.1"/>
<circle cx="300.80" cy="209.70" r="2.35" fill="#fff" stroke="#000" stroke-width="1.1"/>
<circle cx="320.20" cy="226.60" r="2.35" fill="#fff" stroke="#000" stroke-width="1.1"/>
<circle cx="339.60" cy="233.40" r="2.35" fill="#fff" stroke="#000" stroke-width="1.1"/>
<polygon points="223.20,154.40 223.88,156.07 225.67,156.20 224.29,157.36 224.73,159.10 223.20,158.15 221.67,159.10 222.11,157.36 220.73,156.20 222.52,156.07" fill="#000"/>
<polygon points="242.60,167.50 243.28,169.17 245.07,169.30 243.69,170.46 244.13,172.20 242.60,171.25 241.07,172.20 241.51,170.46 240.13,169.30 241.92,169.17" fill="#000"/>
<polygon points="259.45,183.40 260.13,185.07 261.92,185.20 260.54,186.36 260.98,188.10 259.45,187.15 257.92,188.10 258.36,186.36 256.98,185.20 258.77,185.07" fill="#000"/>
<polygon points="264.55,183.40 265.23,185.07 267.02,185.20 265.64,186.36 266.08,188.10 264.55,187.15 263.02,188.10 263.46,186.36 262.08,185.20 263.87,185.07" fill="#000"/>
<polygon points="278.85,189.70 279.53,191.37 281.32,191.50 279.94,192.66 280.38,194.40 278.85,193.45 277.32,194.40 277.76,192.66 276.38,191.50 278.17,191.37" fill="#000"/>
<polygon points="283.95,189.70 284.63,191.37 286.42,191.50 285.04,192.66 285.48,194.40 283.95,193.45 282.42,194.40 282.86,192.66 281.48,191.50 283.27,191.37" fill="#000"/>
<polygon points="300.80,193.80 301.48,195.47 303.27,195.60 301.89,196.76 302.33,198.50 300.80,197.55 299.27,198.50 299.71,196.76 298.33,195.60 300.12,195.47" fill="#000"/>
<path d="M291.10 171.75L301.00 171.75" fill="none" stroke="#000" stroke-width="1.2" stroke-linejoin="round"/>
<rect x="294.05" y="169.75" width="4.0" height="4.0" fill="#000"/>
<text transform="translate(302.75,174.10) scale(0.9960,1)" font-size="6.0" font-weight="normal" fill="#000" stroke="#000" stroke-width="0.06">clg</text>
<path d="M291.10 182.40L301.00 182.40" fill="none" stroke="#000" stroke-width="1.2" stroke-linejoin="round"/>
<circle cx="296.05" cy="182.40" r="1.9" fill="#fff" stroke="#000" stroke-width="1.1"/>
<text transform="translate(302.73,184.30) scale(1.0534,1)" font-size="6.0" font-weight="normal" fill="#000" stroke="#000" stroke-width="0.06">anti-NKG2D</text>
<text transform="translate(116.19,184.20) scale(0.8062,1)" font-size="5.4" font-weight="normal" fill="#555">γδ</text>
</svg>
</body></html>
